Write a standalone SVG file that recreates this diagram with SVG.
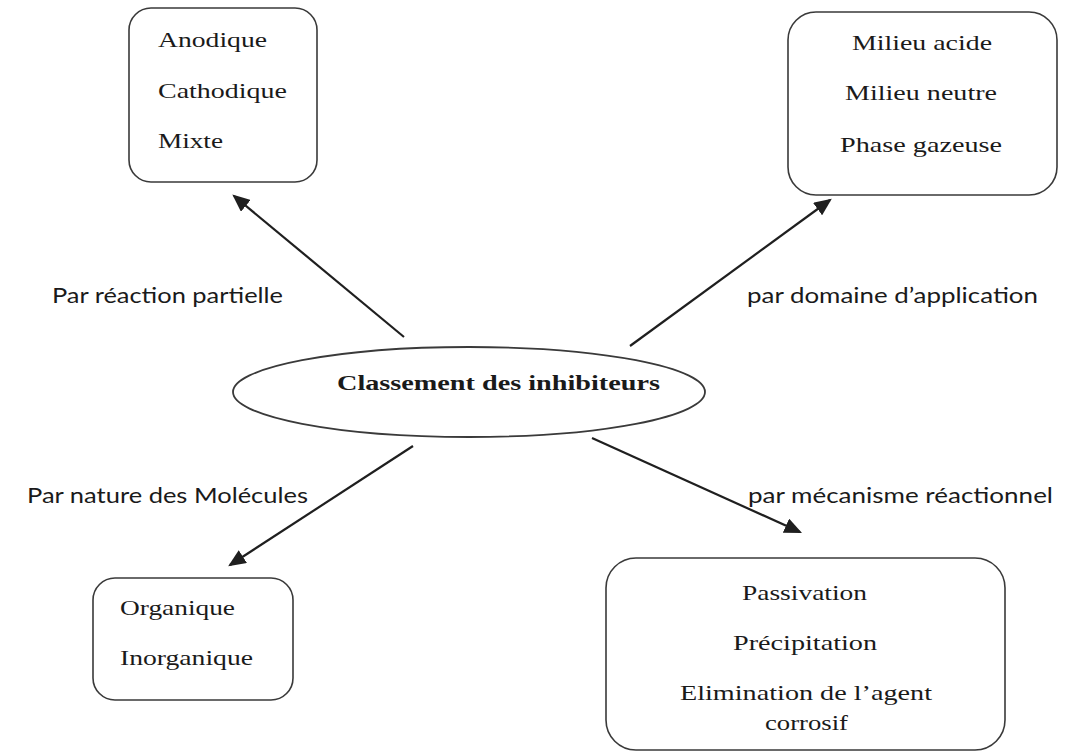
<svg xmlns="http://www.w3.org/2000/svg" width="1067" height="754" viewBox="0 0 1067 754">
<style>
.box{fill:#fff;stroke:#3a3a3a;stroke-width:1.6}
.ser{font-family:"Liberation Serif","Times New Roman",serif;font-size:22px;fill:#1a1a1a}
.sans{font-family:Lato,"Open Sans","Liberation Sans",sans-serif;font-size:22px;fill:#1a1a1a}
.con{stroke:#1f1f1f;stroke-width:2.2;fill:none;marker-end:url(#ah)}
</style>
<defs>
<marker id="ah" markerWidth="8" markerHeight="7" refX="7" refY="3.5" orient="auto" markerUnits="strokeWidth">
<path d="M0,0 L8,3.5 L0,7 z" fill="#1f1f1f"/>
</marker>
</defs>
<rect width="1067" height="754" fill="#fff"/>
<g id="connectors">
<line class="con" x1="404" y1="337" x2="234" y2="196"/>
<line class="con" x1="630" y1="346" x2="830" y2="200"/>
<line class="con" x1="413" y1="446" x2="230" y2="565"/>
<line class="con" x1="592" y1="438" x2="800" y2="532"/>
</g>
<g id="center">
<ellipse cx="469" cy="392" rx="236" ry="45" fill="#fff" stroke="#3a3a3a" stroke-width="1.8"/>
<text class="ser" x="337" y="390" font-weight="bold" font-size="24" textLength="323" lengthAdjust="spacingAndGlyphs">Classement des inhibiteurs</text>
</g>
<g id="n-reaction">
<rect class="box" x="129" y="8" width="188" height="174" rx="22"/>
<text class="ser" x="158" y="47" textLength="109" lengthAdjust="spacingAndGlyphs">Anodique</text>
<text class="ser" x="158" y="98" textLength="129" lengthAdjust="spacingAndGlyphs">Cathodique</text>
<text class="ser" x="158" y="148" textLength="65" lengthAdjust="spacingAndGlyphs">Mixte</text>
</g>
<g id="n-domaine">
<rect class="box" x="788" y="12" width="269" height="183" rx="28"/>
<text class="ser" x="852" y="50" textLength="140" lengthAdjust="spacingAndGlyphs">Milieu acide</text>
<text class="ser" x="845" y="100" textLength="152" lengthAdjust="spacingAndGlyphs">Milieu neutre</text>
<text class="ser" x="840" y="152" textLength="162" lengthAdjust="spacingAndGlyphs">Phase gazeuse</text>
</g>
<g id="n-nature">
<rect class="box" x="93" y="578" width="200" height="122" rx="22"/>
<text class="ser" x="120" y="615" textLength="115" lengthAdjust="spacingAndGlyphs">Organique</text>
<text class="ser" x="120" y="665" textLength="133" lengthAdjust="spacingAndGlyphs">Inorganique</text>
</g>
<g id="n-mecanisme">
<rect class="box" x="606" y="558" width="399" height="192" rx="30"/>
<text class="ser" x="742" y="600" textLength="125" lengthAdjust="spacingAndGlyphs">Passivation</text>
<text class="ser" x="733" y="650" textLength="144" lengthAdjust="spacingAndGlyphs">Précipitation</text>
<text class="ser" x="680" y="700" textLength="252" lengthAdjust="spacingAndGlyphs">Elimination de l’agent</text>
<text class="ser" x="765" y="730" textLength="83" lengthAdjust="spacingAndGlyphs">corrosif</text>
</g>
<g id="labels">
<text class="sans" x="52" y="303" textLength="231" lengthAdjust="spacingAndGlyphs">Par réaction partielle</text>
<text class="sans" x="747" y="303" textLength="291" lengthAdjust="spacingAndGlyphs">par domaine d’application</text>
<text class="sans" x="27" y="503" textLength="281" lengthAdjust="spacingAndGlyphs">Par nature des Molécules</text>
<text class="sans" x="748" y="503" textLength="305" lengthAdjust="spacingAndGlyphs">par mécanisme réactionnel</text>
</g>
</svg>
